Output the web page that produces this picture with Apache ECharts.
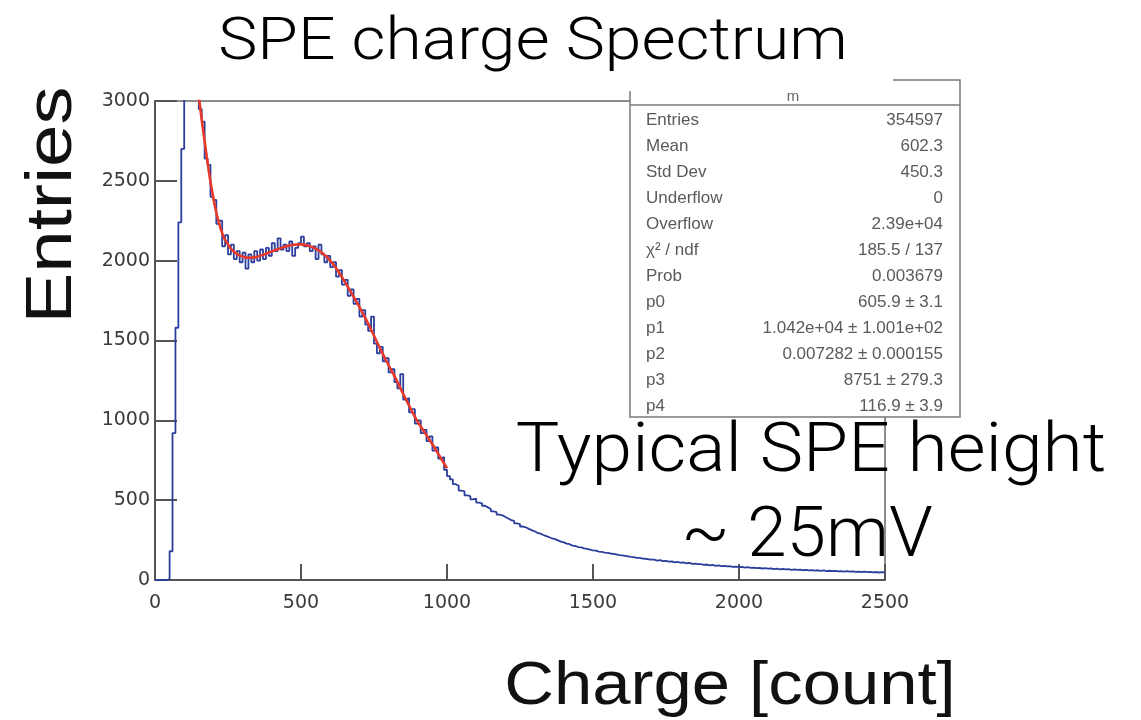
<!DOCTYPE html>
<html><head><meta charset="utf-8">
<script src="https://cdn.jsdelivr.net/npm/echarts@6/dist/echarts.min.js"></script>
<style>html,body{margin:0;padding:0;background:#fff}#c{width:1141px;height:720px}</style>
</head><body><div id="c"></div>
<script>
// ---- data ----
const binWidth = 10;
const xTicks = [0, 500, 1000, 1500, 2000, 2500];
const yTicks = [0, 500, 1000, 1500, 2000, 2500, 3000];
// histogram contents, bins of 10 starting at 0
const histRise = [0, 0, 0, 0, 5, 180, 920, 1580, 2240, 2700, 3300, 3800, 4100, 3900, 3300];
const histPeak = [
  2950, 2870, 2640, 2600, 2400, 2380, 2230, 2250, 2090, 2160,
  2040, 2100, 2010, 2060, 1990, 2050, 1950, 2040, 1990, 2060,
  2000, 2070, 2010, 2080, 2030, 2110, 2060, 2140, 2070, 2100,
  2060, 2120, 2030, 2080, 2110, 2150, 2090, 2110, 2060, 2090,
  2010, 2100, 2040, 1990, 2030, 1960, 1990, 1900, 1940, 1850,
  1880, 1780, 1820, 1730, 1760, 1650, 1690, 1600, 1560, 1650,
  1480, 1420, 1460, 1370, 1390, 1300, 1320, 1240, 1200, 1290,
  1130, 1140, 1050, 1070, 980, 1000, 920, 940, 870, 900,
  810, 830, 760, 770, 690
];
const histTail = [
  650, 630, 600, 590, 560, 555, 530, 525, 505, 510,
  485, 480, 465, 455, 445, 430, 425, 410, 405, 395,
  385, 375, 370, 355, 350, 335, 330, 320, 312, 305,
  295, 290, 282, 275, 268, 260, 256, 248, 240, 236,
  228, 224, 215, 213, 206, 204, 198, 195, 190, 186,
  184, 178, 176, 172, 170, 166, 163, 160, 156, 154,
  151, 148, 145, 143, 139, 138, 134, 133, 130, 128,
  128, 122, 125, 118, 120, 115, 117, 111, 113, 108,
  110, 104, 107, 101, 103, 99, 100, 95, 97, 92,
  94, 89, 91, 87, 89, 85, 86, 82, 84, 80,
  82, 78, 80, 76, 78, 74, 76, 72, 74, 71,
  72, 68, 71, 67, 69, 66, 68, 64, 66, 63,
  65, 61, 64, 60, 62, 59, 61, 57, 60, 56,
  58, 55, 57, 54, 56, 53, 55, 52, 54, 51,
  53, 50, 52, 49, 51, 48, 50, 47, 49, 46
];
// fit curve (red)
const fitCharge = [150,175,200,225,250,275,300,325,350,375,400,425,450,475,500,525,550,575,600,625,650,675,700,725,750,775,800,825,850,875,900,925,950,975,1000];
const fitValues = [3030,2680,2390,2200,2100,2050,2025,2018,2025,2040,2058,2075,2090,2100,2102,2093,2075,2045,2000,1940,1868,1790,1710,1625,1530,1435,1345,1260,1165,1075,990,920,850,775,700];
// stats box
const statLabels = ['Entries','Mean','Std Dev','Underflow','Overflow','\u03c7\u00b2 / ndf','Prob','p0','p1','p2','p3','p4'];
const statValues = ['354597','602.3','450.3','0','2.39e+04','185.5 / 137','0.003679','605.9 \u00b1 3.1','1.042e+04 \u00b1 1.001e+02','0.007282 \u00b1 0.000155','8751 \u00b1 279.3','116.9 \u00b1 3.9'];

// ---- build ----
const hist = histRise.concat(histPeak, histTail);
const histData = hist.map((v, i) => [i * binWidth, v]);
histData.push([hist.length * binWidth, hist[hist.length - 1]]);
const fitData = fitCharge.map((c, i) => [c, fitValues[i]]);

const statGraphics = [];
const boxL = 630, boxR = 960, boxT = 80, boxB = 417;
statGraphics.push({type:'rect', shape:{x:boxL, y:boxT, width:boxR-boxL, height:boxB-boxT}, style:{fill:'#fff', stroke:'#7a7a7a', lineWidth:1.5}, z:10});
statGraphics.push({type:'text', style:{text:'m', x:793, y:97, fontSize:15, fill:'#666', textAlign:'center', textVerticalAlign:'middle', fontFamily:'Liberation Sans'}, z:11});
statGraphics.push({type:'rect', shape:{x:600, y:50, width:293, height:41}, style:{fill:'#fff'}, z:12});
statGraphics.push({type:'line', shape:{x1:boxL, y1:105, x2:boxR, y2:105}, style:{stroke:'#7a7a7a', lineWidth:1.5}, z:11});
statLabels.forEach((l, i) => {
  const y = 120 + i * 26.0;
  statGraphics.push({type:'text', style:{text:l, x:646, y:y, fontSize:17, fill:'#5a5a5a', textAlign:'left', textVerticalAlign:'middle', fontFamily:'Liberation Sans'}, z:11});
  statGraphics.push({type:'text', style:{text:statValues[i], x:943, y:y, fontSize:17, fill:'#5a5a5a', textAlign:'right', textVerticalAlign:'middle', fontFamily:'Liberation Sans'}, z:11});
});

const chart = echarts.init(document.getElementById('c'), null, {renderer:'canvas'});
chart.setOption({
  animation: false,
  backgroundColor: '#fff',
  grid: {left:155, right:256, top:101, bottom:140, show:true, borderColor:'#666', borderWidth:1.5, backgroundColor:'transparent'},
  xAxis: {
    type:'value', min:xTicks[0], max:xTicks[xTicks.length-1], interval:500,
    axisLine:{show:true, onZero:false, lineStyle:{color:'#555', width:2}},
    axisTick:{show:true, inside:true, length:16, lineStyle:{color:'#555', width:2}},
    axisLabel:{color:'#3a3a3a', fontSize:19, fontFamily:'DejaVu Sans', margin:14, formatter: v => String(v)},
    splitLine:{show:false}
  },
  yAxis: {
    type:'value', min:yTicks[0], max:yTicks[yTicks.length-1], interval:500,
    axisLine:{show:true, lineStyle:{color:'#555', width:2}},
    axisTick:{show:true, inside:true, length:22, lineStyle:{color:'#555', width:2}},
    axisLabel:{color:'#3a3a3a', fontSize:19, fontFamily:'DejaVu Sans', margin:5, formatter: v => String(v)},
    splitLine:{show:false}
  },
  series: [
    {type:'line', data:histData, step:'end', symbol:'none', clip:true,
     lineStyle:{color:'#2c3e9c', width:1.8}, z:3},
    {type:'line', data:fitData, smooth:true, symbol:'none', clip:true,
     lineStyle:{color:'#e8392b', width:2.6}, z:4}
  ],
  graphic: statGraphics.concat([
    {type:'text', x:533, y:44, scaleX:1.1, style:{text:'SPE charge Spectrum', x:0, y:0, fontSize:60, fontWeight:300, fontFamily:'Roboto', fill:'#000', textAlign:'center', textVerticalAlign:'middle'}, z:20},
    {type:'text', rotation:Math.PI/2, x:53, y:205, scaleX:1.19, style:{text:'Entries', x:0, y:0, fontSize:64, fontFamily:'Liberation Sans', fill:'#111', textAlign:'center', textVerticalAlign:'middle'}, z:20},
    {type:'text', x:730, y:687, scaleX:1.11, style:{text:'Charge [count]', x:0, y:0, fontSize:62, fontFamily:'Liberation Sans', fill:'#111', textAlign:'center', textVerticalAlign:'middle'}, z:20},
    {type:'text', x:811, y:454, scaleX:1.06, style:{text:'Typical SPE height', x:0, y:0, fontSize:69, fontWeight:300, fontFamily:'Roboto', fill:'#000', textAlign:'center', textVerticalAlign:'middle'}, z:20},
    {type:'text', x:807, y:538, style:{text:'~ 25mV', x:0, y:0, fontSize:71, fontWeight:300, fontFamily:'Roboto', fill:'#000', textAlign:'center', textVerticalAlign:'middle'}, z:20}
  ])
});
</script></body></html>
